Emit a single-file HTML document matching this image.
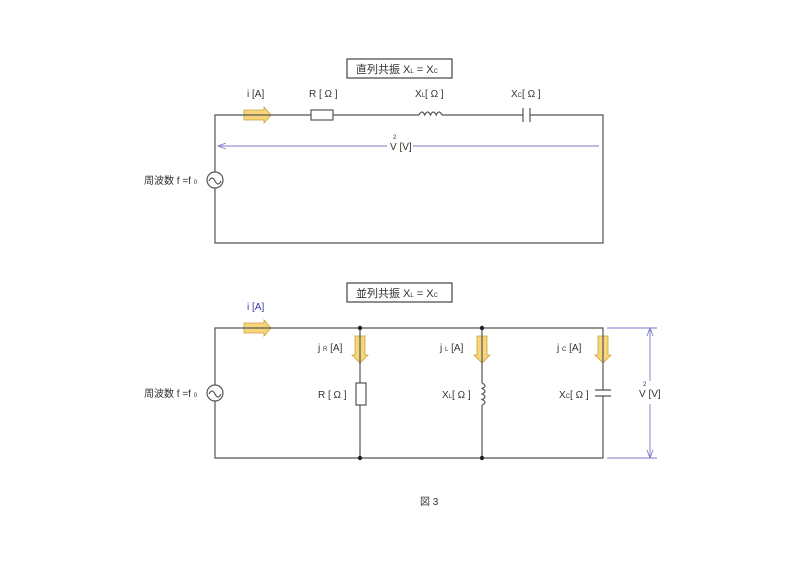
<!DOCTYPE html>
<html><head><meta charset="utf-8"><style>
body{margin:0;background:#fff}
svg{display:block}
text{font-family:"Liberation Sans","Noto Sans CJK JP",sans-serif;font-size:10px;fill:#333}
</style></head><body>
<svg width="800" height="566" viewBox="0 0 800 566" xmlns="http://www.w3.org/2000/svg">
<defs>
<path id="ha" d="M0,-5 L20,-5 L20,-8 L27,0 L20,8 L20,5 L0,5 Z" fill="#f7d67a" stroke="#c9a23a" stroke-width="0.8"/>
<path id="da" d="M-5,0 L5,0 L5,19 L8,19 L0,27 L-8,19 L-5,19 Z" fill="#f7d67a" stroke="#c9a23a" stroke-width="0.8"/>
</defs>
<use href="#ha" x="244" y="115"/>
<use href="#ha" x="244" y="328"/>
<use href="#da" x="360" y="336"/>
<use href="#da" x="482" y="336"/>
<use href="#da" x="603" y="336"/>
<g stroke="#555" stroke-width="1.2" fill="none">
<path d="M215,172 V115 H311 M333,115 H419 M442,115 H523 M530,115 H603 V243 H215 V188"/>
<circle cx="215" cy="180" r="8" fill="#fff"/>
<path d="M209,181 q3,-6 6,0 q3,6 6,0"/>
<rect x="311" y="110" width="22" height="10" fill="#fff"/>
<path d="M419,115 q2.9,-6 5.75,0 q2.9,-6 5.75,0 q2.9,-6 5.75,0 q2.9,-6 5.75,0"/>
<path d="M523,108 V122 M530,108 V122"/>
<rect x="347" y="59" width="105" height="19" stroke="#444" fill="#fff"/>
<path d="M215,385 V328 H603 V390 M603,396 V458 H215 V401"/>
<circle cx="215" cy="393" r="8" fill="#fff"/>
<path d="M209,394 q3,-6 6,0 q3,6 6,0"/>
<path d="M360,328 V383 M360,405 V458 M482,328 V383 M482,405 V458"/>
<rect x="356" y="383" width="10" height="22" fill="#fff"/>
<path d="M482,383 q6,2.75 0,5.5 q6,2.75 0,5.5 q6,2.75 0,5.5 q6,2.75 0,5.5"/>
<path d="M595,390 H611 M595,396 H611"/>
<rect x="347" y="283" width="105" height="19" stroke="#444" fill="#fff"/>
</g>
<g fill="#222"><circle cx="360" cy="328" r="2.2"/><circle cx="482" cy="328" r="2.2"/><circle cx="360" cy="458" r="2.2"/><circle cx="482" cy="458" r="2.2"/></g>
<g stroke="#7b7bc8" stroke-width="0.9" fill="none">
<path d="M218,146 H387 M413,146 H599"/>
<path d="M226,143 L218,146 L226,149"/>
<path d="M607,328 H657 M607,458 H657 M650,328 V381 M650,404 V458"/>
<path d="M647,336 L650,328 L653,336 M647,450 L650,458 L653,450"/>
</g>
<text x="356" y="73" style="font-size:11px">直列共振  X<tspan style="font-size:6px">L</tspan> = X<tspan style="font-size:6px">C</tspan></text>
<text x="356" y="297" style="font-size:11px">並列共振  X<tspan style="font-size:6px">L</tspan> = X<tspan style="font-size:6px">C</tspan></text>
<text x="247" y="97">i [A]</text>
<text x="309" y="97">R [ Ω ]</text>
<text x="415" y="97">X<tspan style="font-size:6px">L</tspan>[ Ω ]</text>
<text x="511" y="97">X<tspan style="font-size:6px">C</tspan>[ Ω ]</text>
<text x="390" y="150">V [V]</text><text x="393" y="139" style="font-size:6px">2</text>
<text x="144" y="184">周波数 f =f <tspan style="font-size:6px">0</tspan></text>
<text x="144" y="397">周波数 f =f <tspan style="font-size:6px">0</tspan></text>
<text x="247" y="310" style="fill:#3a3aa0">i [A]</text>
<text x="318" y="351">j <tspan style="font-size:6px">R</tspan> [A]</text>
<text x="440" y="351">j <tspan style="font-size:6px">L</tspan> [A]</text>
<text x="557" y="351">j <tspan style="font-size:6px">C</tspan> [A]</text>
<text x="318" y="398">R [ Ω ]</text>
<text x="442" y="398">X<tspan style="font-size:6px">L</tspan>[ Ω ]</text>
<text x="559" y="398">X<tspan style="font-size:6px">C</tspan>[ Ω ]</text>
<text x="639" y="397">V  [V]</text><text x="643" y="386" style="font-size:6px">2</text>
<text x="420" y="505">図 3</text>
</svg>
</body></html>
